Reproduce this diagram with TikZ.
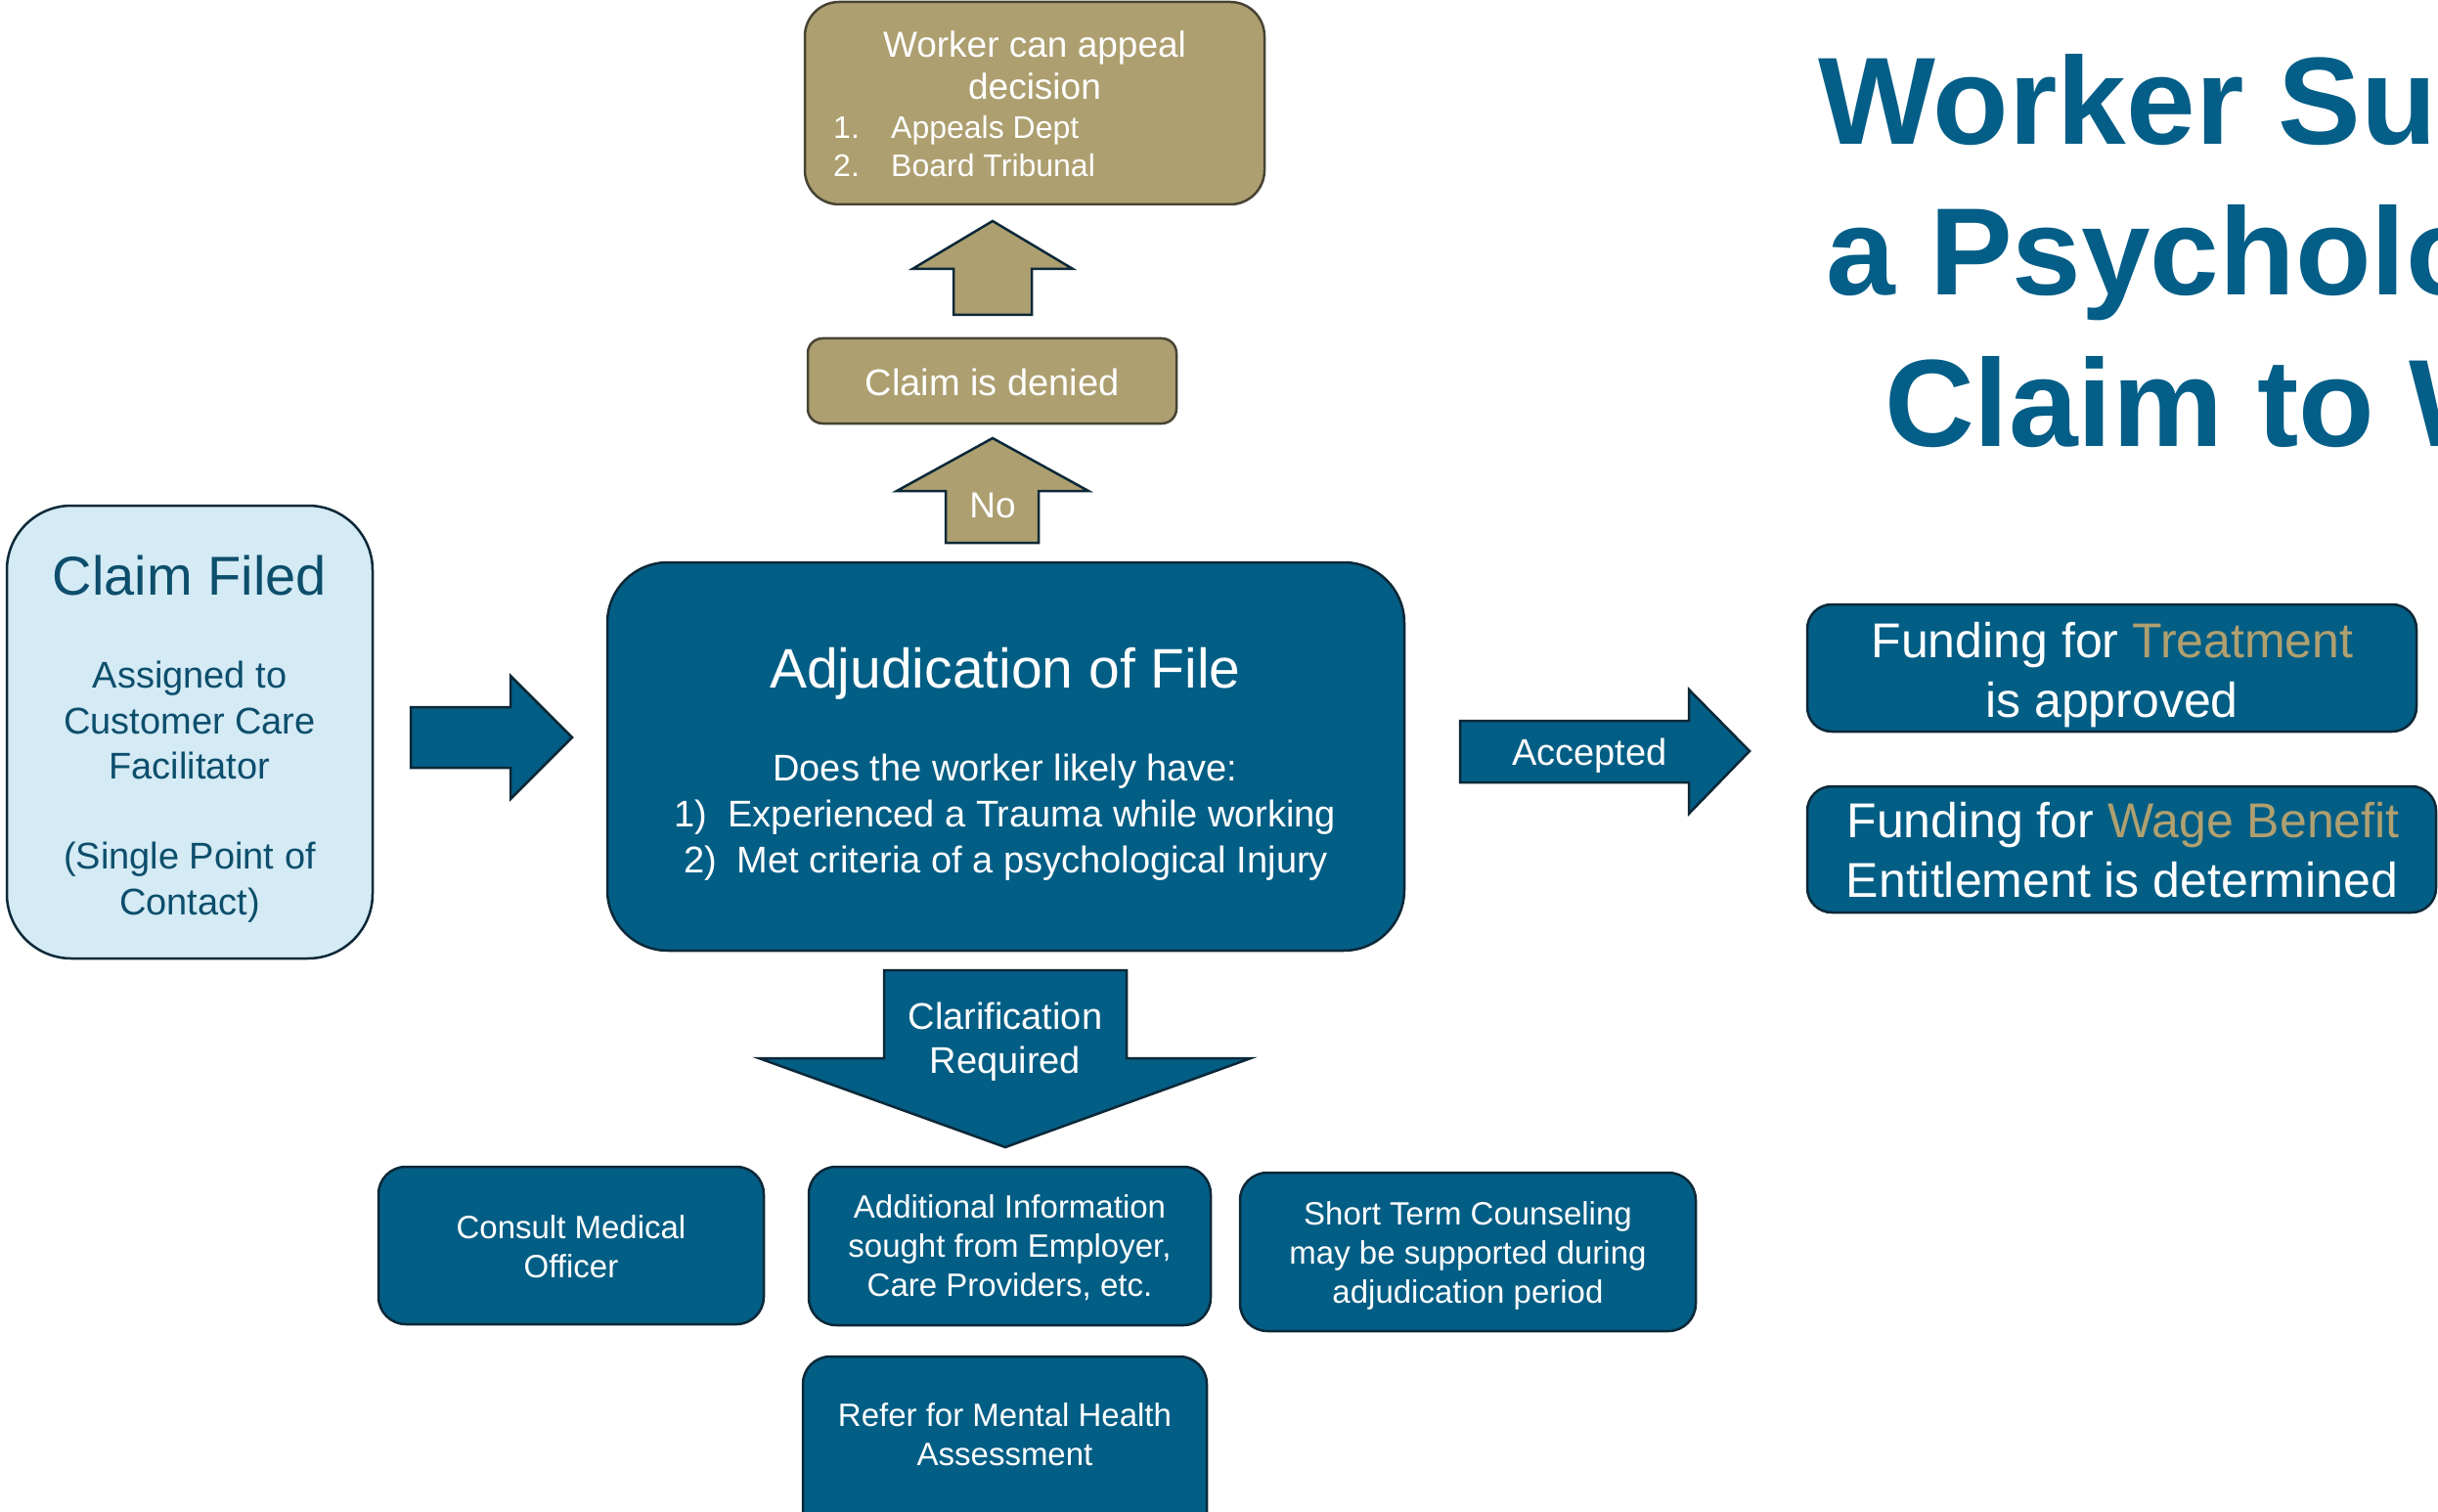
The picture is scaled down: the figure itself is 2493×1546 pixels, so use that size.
\documentclass[tikz,border=0pt]{standalone}
\usepackage{fontspec}
\setmainfont{Liberation Sans}
\definecolor{tealbox}{RGB}{3,94,133}
\definecolor{bdr}{RGB}{12,40,56}
\definecolor{tanbox}{RGB}{173,159,112}
\definecolor{tanbdr}{RGB}{72,68,52}
\definecolor{lightbox}{RGB}{212,234,244}
\definecolor{lighttext}{RGB}{12,78,108}
\definecolor{titleblue}{RGB}{4,94,135}
\definecolor{goldtext}{RGB}{176,160,112}
\tikzset{
  tealrect/.style={draw=bdr, line width=2.5pt, fill=tealbox, inner sep=0pt},
  tanrect/.style={draw=tanbdr, line width=2.5pt, fill=tanbox, inner sep=0pt},
  tealarrow/.style={draw=bdr, line width=2.5pt, fill=tealbox, line join=miter},
  tanarrow/.style={draw=bdr, line width=2.5pt, fill=tanbox, line join=miter},
  txt/.style={inner sep=0pt, anchor=base, text=white},
  f33/.style={font=\fontsize{33}{40}\selectfont},
  f38/.style={font=\fontsize{38}{46}\selectfont},
  f50/.style={font=\fontsize{50}{61}\selectfont},
  titletxt/.style={inner sep=0pt, anchor=base west, text=titleblue, font=\fontsize{127}{154}\selectfont\bfseries},
}
\begin{document}
\begin{tikzpicture}[x=1pt,y=-1pt]
\clip (0,0) rectangle (2493,1546);
\fill[white] (0,0) rectangle (2493,1546);

% Title (cut off at the right edge)
\node[titletxt] (title1) at (1859,148) {Worker Submits};
\node[titletxt] (title2) at (1867,302) {a Psychological};
\node[titletxt] (title3) at (1927,456) {Claim to WCB};

% Claim Filed
\node[draw=bdr, line width=2.5pt, fill=lightbox, rounded corners=66pt, minimum width=374pt, minimum height=463pt, inner sep=0pt] (filed) at (194,748.5) {};
\node[txt, text=lighttext, font=\fontsize{56}{66}\selectfont] (filedt) at (194,608) {Claim Filed};
\node[txt, f38, text=lighttext] (f1) at (194,703) {Assigned to};
\node[txt, f38, text=lighttext] (f2) at (194,750) {Customer Care};
\node[txt, f38, text=lighttext] (f3) at (194,796) {Facilitator};
\node[txt, f38, text=lighttext] (f4) at (194,888) {(Single Point of};
\node[txt, f38, text=lighttext] (f5) at (194,935) {Contact)};

% Arrow into adjudication
\draw[tealarrow] (420,723) -- (522,723) -- (522,691) -- (585,754) -- (522,817) -- (522,785) -- (420,785) -- cycle;

% Adjudication
\node[tealrect, rounded corners=62pt, minimum width=815pt, minimum height=397pt] (adj) at (1028.5,773.5) {};
\node[txt, font=\fontsize{57}{68}\selectfont] (adjt) at (1028,703) {Adjudication of File};
\node[txt, f38] (a1) at (1028,798) {Does the worker likely have:};
\node[txt, f38] (a2) at (1028,845) {1)\hspace{21pt}Experienced a Trauma while working};
\node[txt, f38] (a3) at (1028.5,892) {2)\hspace{21pt}Met criteria of a psychological Injury};

% No arrow
\draw[tanarrow] (967,555) -- (967,502) -- (917,502) -- (1015,448) -- (1113,502) -- (1062,502) -- (1062,555) -- cycle;
\node[txt, font=\fontsize{37}{44}\selectfont] (no) at (1015,529) {No};

% Claim is denied
\node[tanrect, rounded corners=15pt, minimum width=377pt, minimum height=87pt] (denied) at (1014.5,389.5) {};
\node[txt, f38] (deniedt) at (1014.5,404) {Claim is denied};

% Appeal arrow
\draw[tanarrow] (975,322) -- (975,275) -- (933,275) -- (1015,226) -- (1097,275) -- (1055,275) -- (1055,322) -- cycle;

% Appeal box
\node[tanrect, rounded corners=35pt, minimum width=470pt, minimum height=207pt] (appeal) at (1058,105.5) {};
\node[txt, font=\fontsize{37}{43}\selectfont] (ap1) at (1058,59) {Worker can appeal};
\node[txt, font=\fontsize{37}{43}\selectfont] (ap2) at (1058,102) {decision};
\node[txt, anchor=base west, font=\fontsize{32}{39}\selectfont] (n1) at (852,142) {1.};
\node[txt, anchor=base west, font=\fontsize{32}{39}\selectfont] (l1) at (911,142) {Appeals Dept};
\node[txt, anchor=base west, font=\fontsize{32}{39}\selectfont] (n2) at (852,181) {2.};
\node[txt, anchor=base west, font=\fontsize{32}{39}\selectfont] (l2) at (911,181) {Board Tribunal};

% Accepted arrow
\draw[tealarrow] (1493,737) -- (1727,737) -- (1727,705) -- (1789,768) -- (1727,832) -- (1727,800) -- (1493,800) -- cycle;
\node[txt, f38] (acc) at (1625.5,782) {Accepted};

% Funding boxes
\node[tealrect, rounded corners=25pt, minimum width=623pt, minimum height=130pt] (treat) at (2159.5,683) {};
\node[txt, f50] (tr1) at (2160,672) {Funding for \textcolor{goldtext}{Treatment}};
\node[txt, f50] (tr2) at (2159.5,733) {is approved};
\node[tealrect, rounded corners=25pt, minimum width=643pt, minimum height=129pt] (wage) at (2169.5,868.5) {};
\node[txt, f50] (wg1) at (2171,856) {Funding for \textcolor{goldtext}{Wage Benefit}};
\node[txt, f50] (wg2) at (2170,917) {Entitlement is determined};

% Clarification arrow
\draw[tealarrow] (904,992) -- (1152,992) -- (1152,1082) -- (1279,1082) -- (1028,1173) -- (776,1082) -- (904,1082) -- cycle;
\node[txt, f38] (cl1) at (1028,1052) {Clarification};
\node[txt, f38] (cl2) at (1028,1097) {Required};

% Bottom boxes
\node[tealrect, rounded corners=28pt, minimum width=394pt, minimum height=161pt] (consult) at (584,1273.5) {};
\node[txt, f33] (c1) at (584,1266) {Consult Medical};
\node[txt, f33] (c2) at (584,1306) {Officer};

\node[tealrect, rounded corners=28pt, minimum width=411pt, minimum height=162pt] (addl) at (1032.5,1274) {};
\node[txt, f33] (d1) at (1032.5,1245) {Additional Information};
\node[txt, f33] (d2) at (1032.5,1285) {sought from Employer,};
\node[txt, f33] (d3) at (1032.5,1325) {Care Providers, etc.};

\node[tealrect, rounded corners=28pt, minimum width=466pt, minimum height=162pt] (short) at (1501,1280) {};
\node[txt, f33] (s1) at (1501,1252) {Short Term Counseling};
\node[txt, f33] (s2) at (1501,1292) {may be supported during};
\node[txt, f33] (s3) at (1501,1332) {adjudication period};

\node[tealrect, rounded corners=28pt, minimum width=413pt, minimum height=200pt] (refer) at (1027.5,1487) {};
\node[txt, f33] (r1) at (1027.5,1458) {Refer for Mental Health};
\node[txt, f33] (r2) at (1027.5,1498) {Assessment};
\end{tikzpicture}
\end{document}
